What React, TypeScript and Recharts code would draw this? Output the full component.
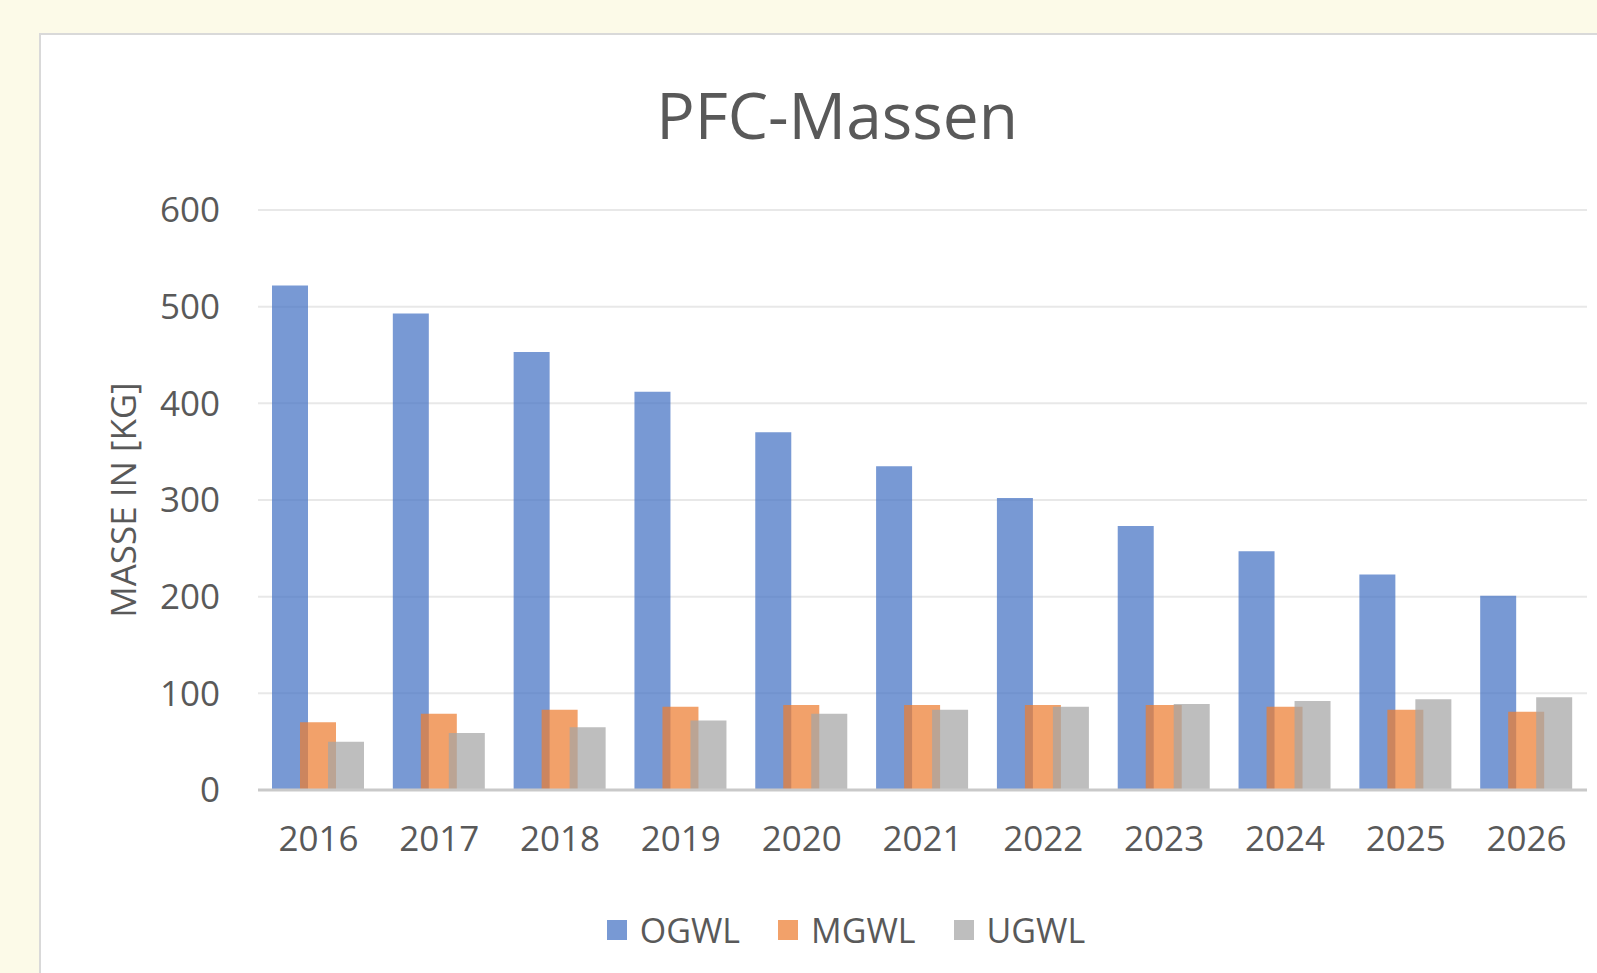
import { BarChart, Bar, XAxis, YAxis, CartesianGrid } from "recharts";

const years = ["2016", "2017", "2018", "2019", "2020", "2021", "2022", "2023", "2024", "2025", "2026"];
const ogwl = [522, 493, 453, 412, 370, 335, 302, 273, 247, 223, 201];
const mgwl = [70, 79, 83, 86, 88, 88, 88, 88, 86, 83, 81];
const ugwl = [50, 59, 65, 72, 79, 83, 86, 89, 92, 94, 96];
const yTicks = [0, 100, 200, 300, 400, 500, 600];

const series = [
  { key: "OGWL", color: "#4472C4" },
  { key: "MGWL", color: "#ED7D31" },
  { key: "UGWL", color: "#A5A5A5" },
];

const data = years.map((year, i) => ({
  year,
  OGWL: ogwl[i],
  MGWL: mgwl[i],
  UGWL: ugwl[i],
}));

const FONT = "'Open Sans', sans-serif";
const TEXT = "#595959";

export default function App() {
  return (
    <div
      style={{
        position: "fixed",
        left: 0,
        top: 0,
        width: 1597,
        height: 973,
        background: "#FCFAE8",
        overflow: "hidden",
        fontFamily: FONT,
      }}
    >
      {/* white chart card */}
      <div
        style={{
          position: "absolute",
          left: 39,
          top: 33,
          width: 1620,
          height: 1000,
          background: "#fff",
          border: "2px solid #D9D9D9",
        }}
      />
      <div
        style={{
          position: "absolute",
          left: 537,
          width: 600,
          top: 73,
          textAlign: "center",
          fontSize: 64,
          color: TEXT,
          lineHeight: "84px",
        }}
      >
        PFC-Massen
      </div>
      <div
        style={{
          position: "absolute",
          left: 122,
          top: 500,
          transform: "translate(-50%, -50%) rotate(-90deg)",
          whiteSpace: "nowrap",
          fontSize: 35,
          color: TEXT,
        }}
      >
        MASSE IN [KG]
      </div>
      <div style={{ position: "absolute", left: 0, top: 0 }}>
        <BarChart
          width={1597}
          height={973}
          data={data}
          margin={{ top: 210, right: 10, left: 90, bottom: 123 }}
          barSize={36}
          barGap={-8}
        >
          <CartesianGrid vertical={false} stroke="#E8E8E8" strokeWidth={2} />
          <XAxis
            dataKey="year"
            height={60}
            tickLine={false}
            tickSize={0}
            tickMargin={36}
            axisLine={{ stroke: "#C9C9C9", strokeWidth: 3 }}
            tick={{ fill: TEXT, fontSize: 35, fontFamily: FONT }}
          />
          <YAxis
            width={168}
            domain={[0, 600]}
            ticks={yTicks}
            axisLine={false}
            tickLine={false}
            tickSize={0}
            tickMargin={38}
            tick={{ fill: TEXT, fontSize: 35, fontFamily: FONT }}
          />
          {series.map((s) => (
            <Bar
              key={s.key}
              dataKey={s.key}
              fill={s.color}
              fillOpacity={0.72}
              isAnimationActive={false}
            />
          ))}
        </BarChart>
      </div>
      {/* legend */}
      <div
        style={{
          position: "absolute",
          left: 96,
          width: 1500,
          top: 908,
          display: "flex",
          justifyContent: "center",
          gap: 38,
          fontSize: 34,
          color: TEXT,
          lineHeight: "44px",
        }}
      >
        {series.map((s) => (
          <div key={s.key} style={{ display: "flex", alignItems: "center", gap: 13 }}>
            <span
              style={{
                display: "inline-block",
                width: 20,
                height: 20,
                background: s.color,
                opacity: 0.72,
              }}
            />
            <span>{s.key}</span>
          </div>
        ))}
      </div>
    </div>
  );
}
